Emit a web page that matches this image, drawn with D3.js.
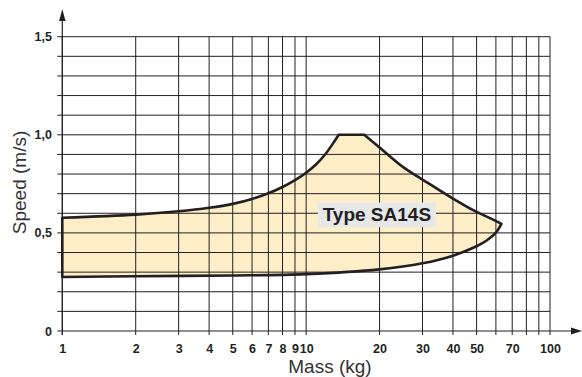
<!DOCTYPE html>
<html><head><meta charset="utf-8">
<script src="https://cdn.jsdelivr.net/npm/d3@7"></script>
<style>
html,body{margin:0;padding:0;background:#fff;}
svg{display:block;font-family:"Liberation Sans",Arial,sans-serif;}
</style></head>
<body>
<svg id="chart" width="582" height="377"></svg>
<script>
// ---- data ----
const massGrid = [1,2,3,4,5,6,7,8,9,10,20,30,40,50,60,70,80,90,100];
const massLabels = [1,2,3,4,5,6,7,8,9,10,20,30,40,50,70,100];
const speedGrid = [0.1,0.2,0.3,0.4,0.5,0.6,0.7,0.8,0.9,1.0,1.1,1.2,1.3,1.4,1.5];
const speedLabels = [0,0.5,1.0,1.5];

// envelope of Type SA14S (mass kg, speed m/s)
const riseMass  = [1, 2, 3, 4, 5, 6, 7, 8, 9, 10, 11, 12, 13, 13.6];
const riseSpeed = [0.577, 0.593, 0.610, 0.628, 0.648, 0.673, 0.702, 0.734, 0.769, 0.807, 0.850, 0.902, 0.963, 1.0];
const flatMass  = [13.6, 17.3];
const flatSpeed = [1.0, 1.0];
const fallMass  = [17.3, 20, 25, 30, 40, 50, 57, 63.2];
const fallSpeed = [1.0, 0.935, 0.835, 0.772, 0.675, 0.607, 0.574, 0.546];
const lowMass   = [63.2, 60, 55, 50, 40, 30, 20, 10, 5, 2, 1];
const lowSpeed  = [0.546, 0.501, 0.461, 0.432, 0.384, 0.345, 0.314, 0.29, 0.283, 0.279, 0.275];

const seriesLabel = "Type SA14S";
const labelMass = 19.5, labelSpeed = 0.592;

// ---- layout ----
const svg = d3.select("#chart");
const x = d3.scaleLog().domain([1,100]).range([62.3,550]);
const y = d3.scaleLinear().domain([0,1.5]).range([331,36.7]);
const ink = "#231f20";

// envelope path
const curved = d3.line().x(d=>x(d[0])).y(d=>y(d[1])).curve(d3.curveCatmullRom.alpha(0.5));
const straight = d3.line().x(d=>x(d[0])).y(d=>y(d[1]));
const seg = (gen,m,s) => gen(d3.zip(m,s));
const outline = seg(curved,riseMass,riseSpeed)
  + seg(straight,flatMass,flatSpeed).replace(/^M/,"L")
  + seg(curved,fallMass,fallSpeed).replace(/^M/,"L")
  + seg(curved,lowMass,lowSpeed).replace(/^M/,"L") + "Z";

svg.append("path").attr("d",outline).attr("fill","#fdeec8").attr("stroke","none");

// grid
const grid = svg.append("g").attr("stroke",ink).attr("stroke-width",1);
grid.selectAll("line.h").data(speedGrid).join("line")
  .attr("x1",x(1)-5).attr("x2",x(100))
  .attr("y1",d=>y(d)).attr("y2",d=>y(d));
grid.selectAll("line.v").data(massGrid).join("line")
  .attr("x1",d=>x(d)).attr("x2",d=>x(d))
  .attr("y1",y(1.5)).attr("y2",y(0)+4);

// axes lines with arrows
svg.append("line").attr("x1",x(1)-5).attr("x2",574).attr("y1",y(0)).attr("y2",y(0)).attr("stroke",ink).attr("stroke-width",1.2);
svg.append("path").attr("d",`M582,${y(0)} L571,${y(0)-3.5} L571,${y(0)+3.5} Z`).attr("fill",ink);
svg.append("line").attr("x1",x(1)).attr("x2",x(1)).attr("y1",y(0)+4).attr("y2",18).attr("stroke",ink).attr("stroke-width",1.2);
svg.append("path").attr("d",`M${x(1)},9 L${x(1)-3.2},21 L${x(1)+3.2},21 Z`).attr("fill",ink);

// outline
svg.append("path").attr("d",outline).attr("fill","none").attr("stroke",ink)
  .attr("stroke-width",2.6).attr("stroke-linejoin","round");

// tick labels via axes
const labSet = new Set(massLabels);
const xAxis = svg.append("g").attr("transform",`translate(0,${y(0)})`)
  .call(d3.axisBottom(x).tickValues(massGrid).tickSize(4).tickPadding(8.8)
    .tickFormat(d=>labSet.has(d)?String(d):""));
xAxis.select(".domain").remove();
xAxis.selectAll(".tick line").remove();
xAxis.selectAll("text").attr("font-size","12.5px").attr("font-weight","bold")
  .attr("font-family","'Liberation Sans',Arial,sans-serif").attr("fill",ink);

const yAxis = svg.append("g").attr("transform",`translate(${x(1)},0)`)
  .call(d3.axisLeft(y).tickValues(speedLabels).tickSize(5).tickPadding(5.3)
    .tickFormat(d=>d===0?"0":d3.format(".1f")(d).replace(".",",")));
yAxis.select(".domain").remove();
yAxis.selectAll(".tick line").remove();
yAxis.selectAll("text").attr("font-size","12.5px").attr("font-weight","bold")
  .attr("font-family","'Liberation Sans',Arial,sans-serif").attr("fill",ink);

// axis titles
svg.append("text").attr("x",330).attr("y",373).attr("text-anchor","middle")
  .attr("font-size","19px").attr("fill","#333").text("Mass (kg)");
svg.append("text").attr("transform","translate(26,182.5) rotate(-90)").attr("text-anchor","middle")
  .attr("font-size","19px").attr("fill","#333").text("Speed (m/s)");

// series label
const lx = x(labelMass), ly = y(labelSpeed);
svg.append("rect").attr("x",lx-59).attr("y",ly-12.3).attr("width",118).attr("height",24.6).attr("fill","#e6e7e8");
svg.append("text").attr("x",lx).attr("y",ly+6.6).attr("text-anchor","middle")
  .attr("font-size","19px").attr("font-weight","bold").attr("fill",ink).text(seriesLabel);
</script>
</body></html>
